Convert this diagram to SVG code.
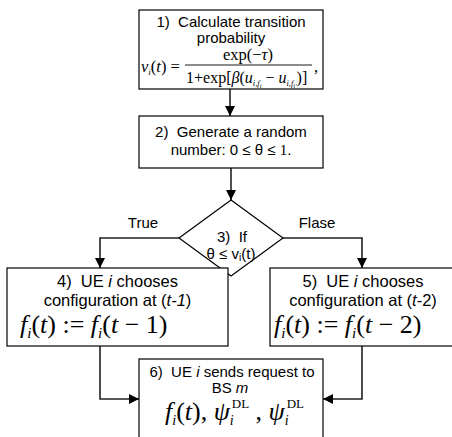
<svg xmlns="http://www.w3.org/2000/svg" width="452" height="437" viewBox="0 0 452 437">
<style>
.box{fill:#fff;stroke:#000;stroke-width:1.2}
.t{font-family:"Liberation Sans",Arial,sans-serif;font-size:15px;fill:#000;text-anchor:middle;white-space:pre}
.tb{font-family:"Liberation Sans",Arial,sans-serif;font-size:16.5px;fill:#000;text-anchor:middle;white-space:pre}
.m{font-family:"Liberation Serif","Times New Roman",serif;fill:#000;white-space:pre}
.ln{fill:none;stroke:#222;stroke-width:1.6}
</style>
<defs>
<marker id="ah" viewBox="0 0 10 10" refX="10" refY="5" markerWidth="10" markerHeight="10" markerUnits="userSpaceOnUse" orient="auto">
<path d="M0,0 L10,5 L0,10 Z" fill="#000"/>
</marker>
</defs>
<rect width="452" height="437" fill="#fff"/>
<g id="connectors">
<path class="ln" d="M230,89 V116" marker-end="url(#ah)"/>
<path class="ln" d="M231,168 V200" marker-end="url(#ah)"/>
<path class="ln" d="M179,238 H100 V268" marker-end="url(#ah)"/>
<path class="ln" d="M283,238 H362 V268" marker-end="url(#ah)"/>
<path class="ln" d="M100,346 V399 H139" marker-end="url(#ah)"/>
<path class="ln" d="M362,346 V399 H323" marker-end="url(#ah)"/>
<text class="t" x="143" y="228">True</text>
<text class="t" x="317" y="228">Flase</text>
</g>
<g id="n1">
<rect class="box" x="139" y="10" width="184" height="79"/>
<text class="t" x="231" y="27">1)  Calculate transition</text>
<text class="t" x="231" y="43">probability</text>
<text class="m" x="141" y="72" font-size="16.5"><tspan font-style="italic">ν</tspan><tspan font-size="9" font-style="italic" dy="3">i</tspan><tspan dy="-3">(</tspan><tspan font-style="italic">t</tspan>) =</text>
<text class="m" x="248" y="60" font-size="16.5" text-anchor="middle">exp(−<tspan font-style="italic">τ</tspan>)</text>
<line x1="185" y1="65" x2="312" y2="65" stroke="#000" stroke-width="0.9"/>
<text class="m" x="186" y="83" font-size="16">1+exp[<tspan font-style="italic">β</tspan>(<tspan font-style="italic">u</tspan><tspan font-size="8.5" font-style="italic" dy="3">i</tspan><tspan font-size="8.5">,</tspan><tspan font-size="8.5" font-style="italic">f</tspan><tspan font-size="6.5" font-style="italic" dy="2">i</tspan><tspan dy="-5"> − </tspan><tspan font-style="italic">u</tspan><tspan font-size="8.5" font-style="italic" dy="3">i</tspan><tspan font-size="8.5">,</tspan><tspan font-size="8.5" font-style="italic">f</tspan><tspan font-size="6.5" font-style="italic" dy="2">i'</tspan><tspan dy="-5">)]</tspan></text>
<text class="m" x="314" y="72" font-size="16.5">,</text>
</g>
<g id="n2">
<rect class="box" x="139" y="116" width="184" height="52"/>
<text class="t" x="231" y="137">2)  Generate a random</text>
<text class="t" x="231" y="155">number: 0 ≤ θ ≤ <tspan font-family="Liberation Serif,serif">1</tspan>.</text>
</g>
<g id="n3">
<polygon class="box" points="231,200 283,238 231,276 179,238"/>
<text class="t" x="232" y="242">3)  If</text>
<text class="t" x="231" y="259">θ ≤ v<tspan font-size="10" dy="2">i</tspan><tspan dy="-2">(t)</tspan></text>
</g>
<g id="n4">
<rect class="box" x="7" y="268" width="221" height="78"/>
<text class="tb" x="117.5" y="287">4)  UE <tspan font-style="italic">i</tspan> chooses</text>
<text class="tb" x="117.5" y="306">configuration at (<tspan font-style="italic">t-1</tspan>)</text>
<text class="m" x="20" y="333" font-size="26"><tspan font-style="italic">f</tspan><tspan font-size="15" font-style="italic" dy="5">i</tspan><tspan dy="-5">(</tspan><tspan font-style="italic">t</tspan>) := <tspan font-style="italic">f</tspan><tspan font-size="15" font-style="italic" dy="5">i</tspan><tspan dy="-5">(</tspan><tspan font-style="italic">t</tspan> − 1)</text>
</g>
<g id="n5">
<rect class="box" x="270" y="268" width="186" height="78"/>
<text class="tb" x="363" y="287">5)  UE <tspan font-style="italic">i</tspan> chooses</text>
<text class="tb" x="363" y="306">configuration at (<tspan font-style="italic">t</tspan>-2)</text>
<text class="m" x="274" y="333" font-size="26"><tspan font-style="italic">f</tspan><tspan font-size="15" font-style="italic" dy="5">i</tspan><tspan dy="-5">(</tspan><tspan font-style="italic">t</tspan>) := <tspan font-style="italic">f</tspan><tspan font-size="15" font-style="italic" dy="5">i</tspan><tspan dy="-5">(</tspan><tspan font-style="italic">t</tspan> − 2)</text>
</g>
<g id="n6">
<rect class="box" x="139" y="359" width="184" height="90"/>
<text class="t" x="232" y="377">6)  UE <tspan font-style="italic">i</tspan> sends request to</text>
<text class="t" x="230" y="393">BS <tspan font-style="italic">m</tspan></text>
<text class="m" x="165" y="420" font-size="26"><tspan font-style="italic">f</tspan><tspan font-size="14" font-style="italic" dy="5">i</tspan><tspan dy="-5">(</tspan><tspan font-style="italic">t</tspan>), <tspan font-style="italic">ψ</tspan><tspan font-size="14" font-style="italic" dy="5">i</tspan><tspan font-size="13" dx="-2" dy="-17">DL</tspan><tspan dy="12"> , </tspan><tspan font-style="italic">ψ</tspan><tspan font-size="14" font-style="italic" dy="5">i</tspan><tspan font-size="13" dx="-2" dy="-17">DL</tspan></text>
</g>
</svg>
